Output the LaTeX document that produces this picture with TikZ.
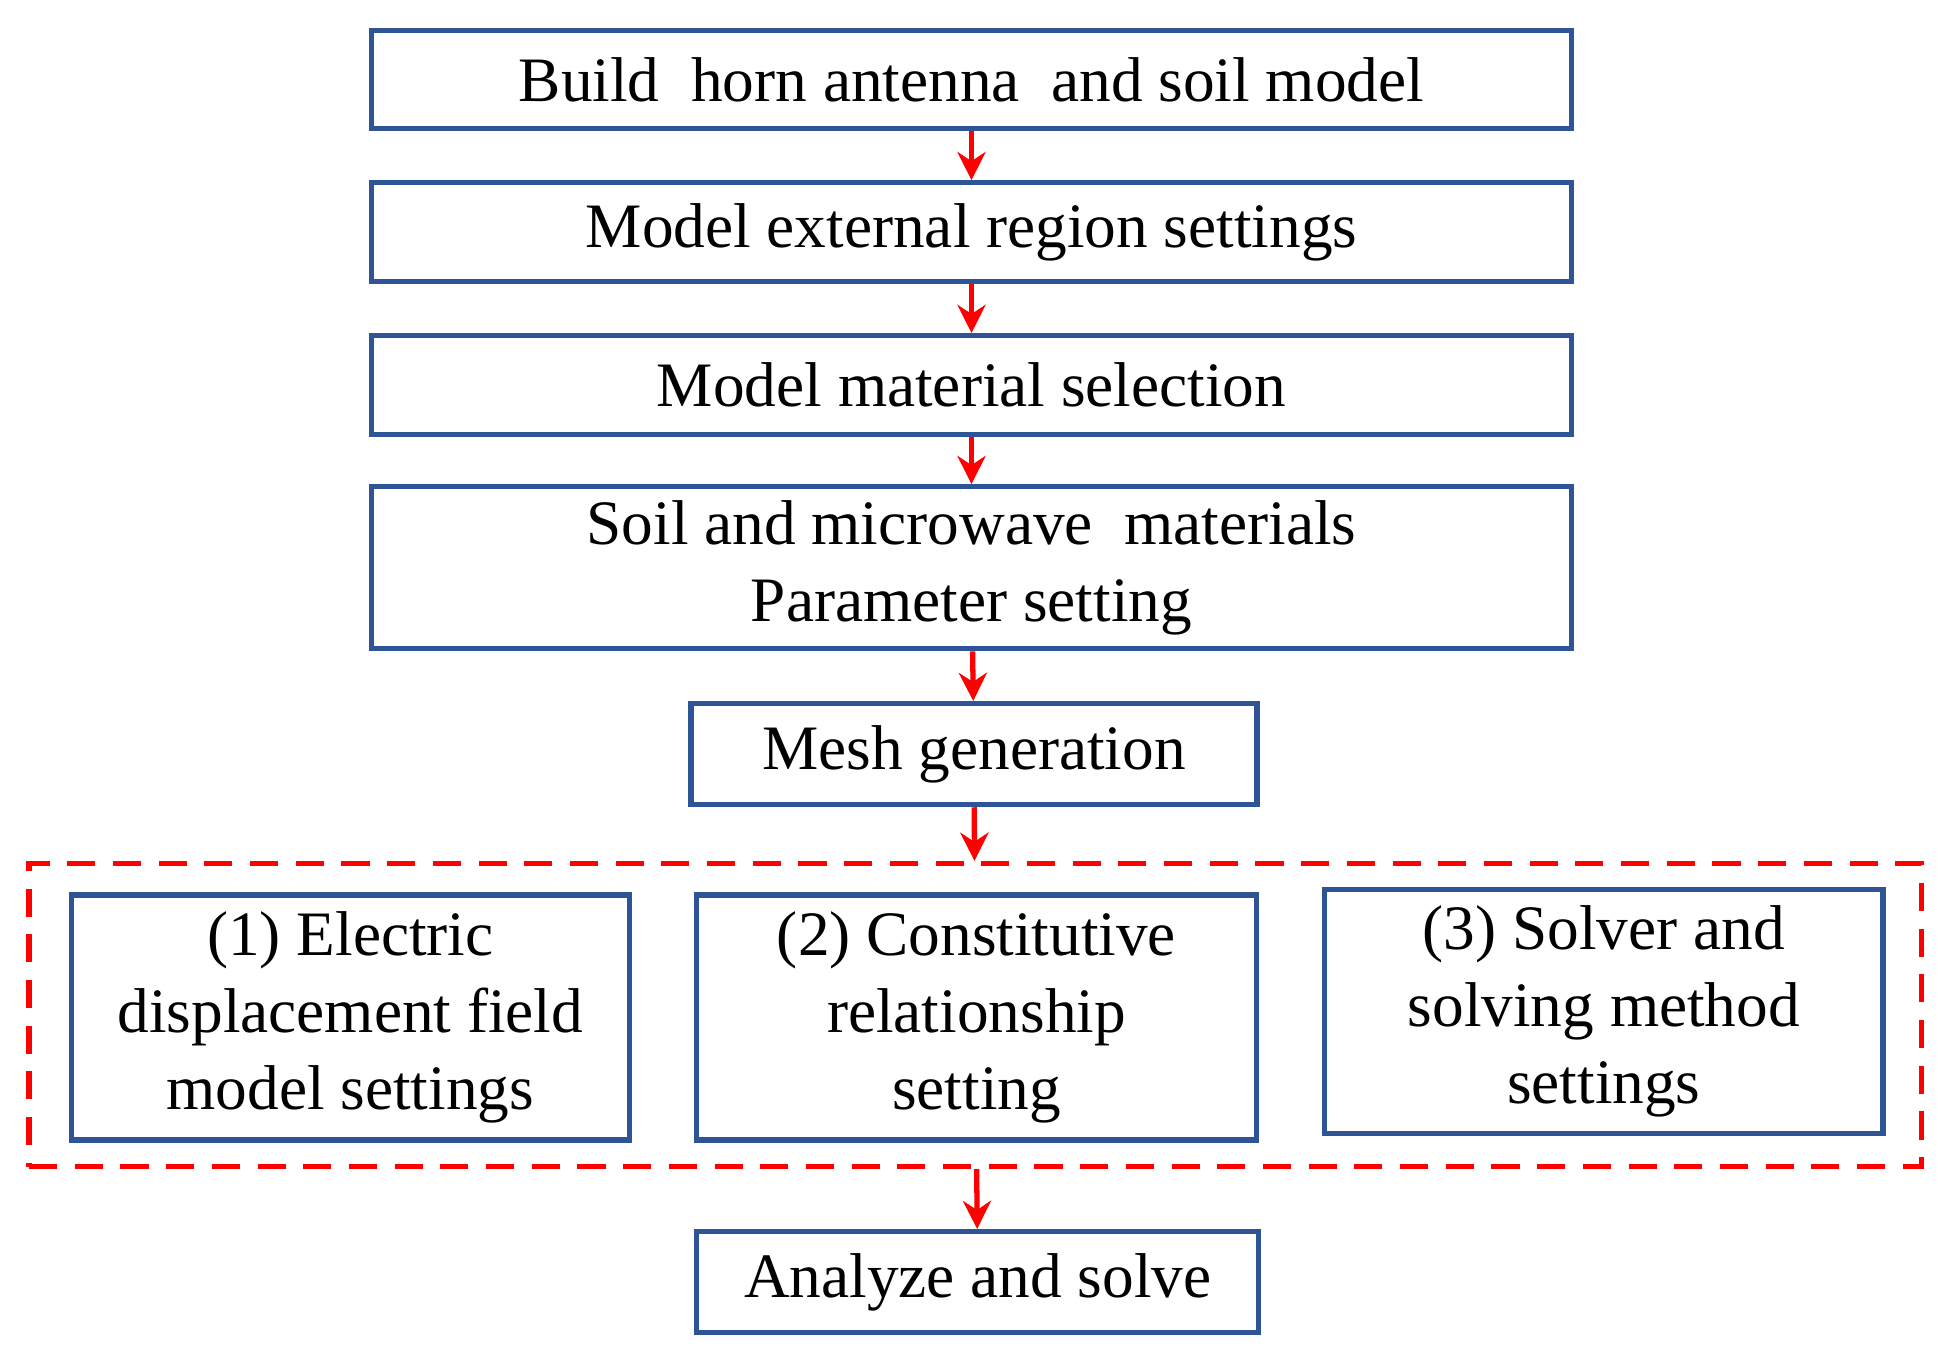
\documentclass[tikz,border=0pt]{standalone}
\usepackage{fontspec}
\setmainfont{Liberation Serif}
\usetikzlibrary{arrows.meta}
\definecolor{boxblue}{RGB}{47,84,150}
\tikzset{
    stage/.style={draw=boxblue, line width=1.5pt, align=center, inner sep=2pt,
        font=\fontsize{18}{22}\selectfont},
    flow/.style={red, line width=1.5pt, -{Stealth[length=8pt,width=8pt]}}
}
\begin{document}
\begin{tikzpicture}[x=0.01242cm, y=-0.01242cm]
    \useasboundingbox (0,0) rectangle (1560,1094);
    % Etapas principales
    \node[stage, minimum width=12.0cm, minimum height=0.98cm] (build) at (782,64) {Build\ \ horn antenna\ \ and soil model};
    \node[stage, minimum width=12.0cm, minimum height=0.99cm] (region) at (782,187) {Model external region settings};
    \node[stage, minimum width=12.0cm, minimum height=0.99cm] (mat) at (782,310) {Model material selection};
    \node[stage, minimum width=12.0cm, minimum height=1.62cm] (param) at (782,457) {Soil and microwave\ \ materials\\Parameter setting};
    \node[stage, minimum width=5.66cm, minimum height=1.01cm] (mesh) at (784,607) {Mesh generation};
    % Bloque de ajustes
    \node[draw=red, line width=1.5pt, dash pattern=on 8pt off 5pt,
        minimum width=18.92cm, minimum height=3.03cm] (group) at (785,817) {};
    \node[stage, minimum width=5.58cm, minimum height=2.45cm] (elec) at (282,819) {(1) Electric\\displacement field\\model settings};
    \node[stage, minimum width=5.6cm, minimum height=2.45cm] (const) at (786,819) {(2) Constitutive\\relationship\\setting};
    \node[stage, minimum width=5.58cm, minimum height=2.44cm] (solver) at (1291,814) {(3) Solver and\\solving method\\settings};
    \node[stage, minimum width=5.62cm, minimum height=1.01cm] (solve) at (787,1032) {Analyze and solve};
    % Flechas
    \draw[flow] (build) -- (region);
    \draw[flow] (region) -- (mat);
    \draw[flow] (mat) -- (param);
    \draw[flow] (param) -- (mesh);
    \draw[flow] (mesh) -- (group);
    \draw[flow] (group) -- (solve);
\end{tikzpicture}
\end{document}
